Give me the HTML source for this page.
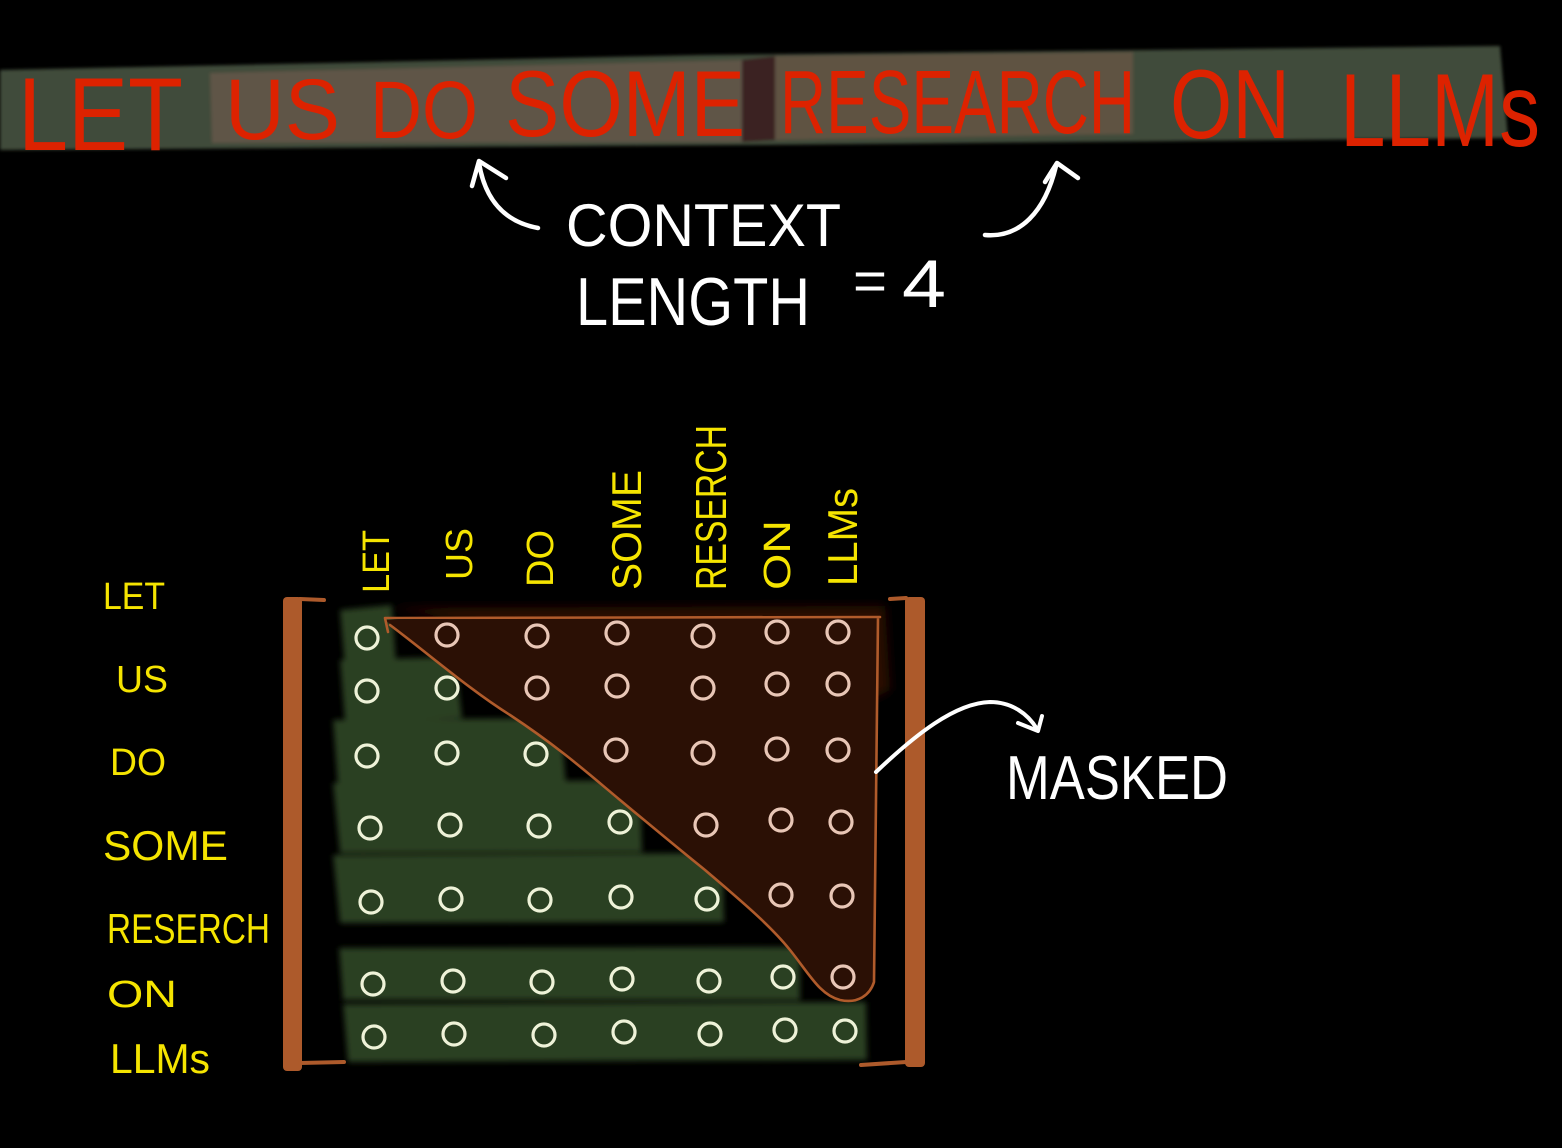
<!DOCTYPE html>
<html><head><meta charset="utf-8">
<style>
html,body{margin:0;padding:0;background:#000;}
svg{display:block;}
</style></head>
<body>
<svg width="1562" height="1148" viewBox="0 0 1562 1148" xmlns="http://www.w3.org/2000/svg">
<defs>
  <filter id="b3" x="-10%" y="-30%" width="120%" height="160%"><feGaussianBlur stdDeviation="3"/></filter>
  <filter id="b2" x="-10%" y="-30%" width="120%" height="160%"><feGaussianBlur stdDeviation="1.5"/></filter>
  <filter id="b6" x="-20%" y="-20%" width="140%" height="140%"><feGaussianBlur stdDeviation="5"/></filter>
</defs>
<rect width="1562" height="1148" fill="#000"/>

<!-- Title band -->
<g filter="url(#b2)">
  <polygon points="0,70 700,55 1500,46 1508,138 760,145 0,150" fill="#414b3a"/>
  <polygon points="210,73 742,60 742,142 212,143" fill="#5f5546"/>
  <polygon points="742,60 775,56 775,140 742,142" fill="#3b2420"/>
  <polygon points="775,56 1133,52 1133,134 775,140" fill="#5e5243"/>
</g>

<!-- Title text -->
<g font-family="'Liberation Sans Narrow','Liberation Sans',sans-serif" fill="#dd2200">
  <text x="18" y="150" font-size="104" textLength="165" lengthAdjust="spacingAndGlyphs">LET</text>
  <text x="225" y="139" font-size="86" textLength="115" lengthAdjust="spacingAndGlyphs">US</text>
  <text x="370" y="138" font-size="82" textLength="108" lengthAdjust="spacingAndGlyphs">DO</text>
  <text x="505" y="136" font-size="94" textLength="240" lengthAdjust="spacingAndGlyphs">SOME</text>
  <text x="780" y="133" font-size="90" textLength="355" lengthAdjust="spacingAndGlyphs">RESEARCH</text>
  <text x="1170" y="138" font-size="98" textLength="120" lengthAdjust="spacingAndGlyphs">ON</text>
  <text x="1340" y="146" font-size="104" textLength="200" lengthAdjust="spacingAndGlyphs">LLMs</text>
</g>

<!-- Context arrows -->
<g fill="none" stroke="#fff" stroke-width="4.5" stroke-linecap="round" stroke-linejoin="round">
  <path d="M538,228 C505,222 485,200 479,163"/>
  <path d="M472,186 L479,161 L506,178"/>
  <path d="M985,235 C1020,238 1045,212 1056,166"/>
  <path d="M1045,182 L1057,163 L1078,178"/>
</g>
<g font-family="'Liberation Sans',sans-serif" fill="#fff">
  <text x="566" y="246" font-size="60" textLength="275" lengthAdjust="spacingAndGlyphs">CONTEXT</text>
  <text x="576" y="325" font-size="68" textLength="234" lengthAdjust="spacingAndGlyphs">LENGTH</text>
  <text x="853" y="300" font-size="56" textLength="34" lengthAdjust="spacingAndGlyphs">=</text>
  <text x="902" y="307" font-size="68" textLength="44" lengthAdjust="spacingAndGlyphs">4</text>
</g>

<!-- Row labels -->
<g font-family="'Liberation Sans',sans-serif" fill="#f5e400">
  <text x="103" y="609" font-size="38" textLength="62" lengthAdjust="spacingAndGlyphs">LET</text>
  <text x="116" y="692" font-size="38" textLength="52" lengthAdjust="spacingAndGlyphs">US</text>
  <text x="110" y="775" font-size="38" textLength="56" lengthAdjust="spacingAndGlyphs">DO</text>
  <text x="103" y="860" font-size="42" textLength="125" lengthAdjust="spacingAndGlyphs">SOME</text>
  <text x="107" y="943" font-size="42" textLength="163" lengthAdjust="spacingAndGlyphs">RESERCH</text>
  <text x="107" y="1007" font-size="38" textLength="70" lengthAdjust="spacingAndGlyphs">ON</text>
  <text x="110" y="1073" font-size="42" textLength="100" lengthAdjust="spacingAndGlyphs">LLMs</text>
</g>

<!-- Column labels (rotated) -->
<g font-family="'Liberation Sans',sans-serif" fill="#f5e400" font-size="38">
  <text transform="translate(389,593) rotate(-90)" textLength="63" lengthAdjust="spacingAndGlyphs">LET</text>
  <text transform="translate(472,580) rotate(-90)" textLength="52" lengthAdjust="spacingAndGlyphs">US</text>
  <text transform="translate(553,587) rotate(-90)" textLength="57" lengthAdjust="spacingAndGlyphs">DO</text>
  <text transform="translate(641,590) rotate(-90)" font-size="42" textLength="120" lengthAdjust="spacingAndGlyphs">SOME</text>
  <text transform="translate(726,590) rotate(-90)" font-size="44" textLength="165" lengthAdjust="spacingAndGlyphs">RESERCH</text>
  <text transform="translate(790,590) rotate(-90)" textLength="70" lengthAdjust="spacingAndGlyphs">ON</text>
  <text transform="translate(857,586) rotate(-90)" font-size="42" textLength="98" lengthAdjust="spacingAndGlyphs">LLMs</text>
</g>

<!-- Green row bands -->
<g fill="#2c3f21" filter="url(#b3)">
  <polygon points="340,610 392,605 396,664 345,668"/>
  <polygon points="340,660 455,657 462,718 345,722"/>
  <polygon points="333,720 560,718 566,785 338,786"/>
  <polygon points="333,783 640,780 642,852 340,853"/>
  <polygon points="333,855 722,853 724,922 340,923"/>
  <polygon points="339,948 800,947 800,1000 343,1000"/>
  <polygon points="343,1004 866,1002 867,1060 348,1062"/>
</g>

<!-- Masked triangle -->
<path d="M390,608 L885,606 L890,690 L870,700 Z" fill="#2b1005" filter="url(#b6)"/>
<path d="M385,620 C430,655 470,690 510,715 C560,748 590,775 620,800 C650,825 680,850 705,870 C740,900 770,925 790,950 C810,975 820,995 840,1000 C858,1004 870,995 874,982 L878,618 Z" fill="#2b1005"/>
<path d="M388,632 L385,618 L880,617 M878,618 L874,982 C870,995 858,1004 840,1000 C820,995 810,975 790,950 C770,925 740,900 705,870 C680,850 650,825 620,800 C590,775 560,748 510,715 C470,690 430,655 390,625" fill="none" stroke="#b05b2b" stroke-width="2.6" stroke-linecap="round" stroke-linejoin="round"/>

<!-- Brown bars -->
<g fill="#ad5a2b">
  <rect x="283" y="597" width="19" height="474" rx="4"/>
  <rect x="905" y="597" width="20" height="470" rx="4"/>
</g>
<g fill="none" stroke="#ad5a2b" stroke-width="4" stroke-linecap="round">
  <path d="M300,599 L324,600"/>
  <path d="M300,1063 L344,1062"/>
  <path d="M890,599 L906,598"/>
  <path d="M861,1065 L906,1062"/>
</g>

<!-- Circles -->
<g fill="none" stroke-width="3.2">
  <circle cx="367" cy="638" r="11" stroke="#eef2d8"/>
  <circle cx="447" cy="635" r="11" stroke="#e8c6b6"/>
  <circle cx="537" cy="636" r="11" stroke="#e8c6b6"/>
  <circle cx="617" cy="633" r="11" stroke="#e8c6b6"/>
  <circle cx="703" cy="636" r="11" stroke="#e8c6b6"/>
  <circle cx="777" cy="632" r="11" stroke="#e8c6b6"/>
  <circle cx="838" cy="632" r="11" stroke="#e8c6b6"/>

  <circle cx="367" cy="691" r="11" stroke="#eef2d8"/>
  <circle cx="447" cy="688" r="11" stroke="#eef2d8"/>
  <circle cx="537" cy="688" r="11" stroke="#e8c6b6"/>
  <circle cx="617" cy="686" r="11" stroke="#e8c6b6"/>
  <circle cx="703" cy="688" r="11" stroke="#e8c6b6"/>
  <circle cx="777" cy="684" r="11" stroke="#e8c6b6"/>
  <circle cx="838" cy="684" r="11" stroke="#e8c6b6"/>

  <circle cx="367" cy="756" r="11" stroke="#eef2d8"/>
  <circle cx="447" cy="753" r="11" stroke="#eef2d8"/>
  <circle cx="536" cy="754" r="11" stroke="#eef2d8"/>
  <circle cx="616" cy="750" r="11" stroke="#e8c6b6"/>
  <circle cx="703" cy="753" r="11" stroke="#e8c6b6"/>
  <circle cx="777" cy="749" r="11" stroke="#e8c6b6"/>
  <circle cx="838" cy="750" r="11" stroke="#e8c6b6"/>

  <circle cx="370" cy="828" r="11" stroke="#eef2d8"/>
  <circle cx="450" cy="825" r="11" stroke="#eef2d8"/>
  <circle cx="539" cy="826" r="11" stroke="#eef2d8"/>
  <circle cx="620" cy="822" r="11" stroke="#eef2d8"/>
  <circle cx="706" cy="825" r="11" stroke="#e8c6b6"/>
  <circle cx="781" cy="820" r="11" stroke="#e8c6b6"/>
  <circle cx="841" cy="822" r="11" stroke="#e8c6b6"/>

  <circle cx="371" cy="902" r="11" stroke="#eef2d8"/>
  <circle cx="451" cy="899" r="11" stroke="#eef2d8"/>
  <circle cx="540" cy="900" r="11" stroke="#eef2d8"/>
  <circle cx="621" cy="897" r="11" stroke="#eef2d8"/>
  <circle cx="707" cy="899" r="11" stroke="#eef2d8"/>
  <circle cx="781" cy="895" r="11" stroke="#e8c6b6"/>
  <circle cx="842" cy="896" r="11" stroke="#e8c6b6"/>

  <circle cx="373" cy="984" r="11" stroke="#eef2d8"/>
  <circle cx="453" cy="981" r="11" stroke="#eef2d8"/>
  <circle cx="542" cy="982" r="11" stroke="#eef2d8"/>
  <circle cx="622" cy="979" r="11" stroke="#eef2d8"/>
  <circle cx="709" cy="981" r="11" stroke="#eef2d8"/>
  <circle cx="783" cy="977" r="11" stroke="#eef2d8"/>
  <circle cx="843" cy="977" r="11" stroke="#e8c6b6"/>

  <circle cx="374" cy="1037" r="11" stroke="#eef2d8"/>
  <circle cx="454" cy="1034" r="11" stroke="#eef2d8"/>
  <circle cx="544" cy="1035" r="11" stroke="#eef2d8"/>
  <circle cx="624" cy="1032" r="11" stroke="#eef2d8"/>
  <circle cx="710" cy="1034" r="11" stroke="#eef2d8"/>
  <circle cx="785" cy="1030" r="11" stroke="#eef2d8"/>
  <circle cx="845" cy="1031" r="11" stroke="#eef2d8"/>
</g>

<!-- Masked arrow & label -->
<g fill="none" stroke="#fff" stroke-width="4" stroke-linecap="round" stroke-linejoin="round">
  <path d="M876,772 C915,735 955,703 990,702 C1012,702 1028,714 1037,729"/>
  <path d="M1018,723 L1038,731 L1042,716"/>
</g>
<text x="1006" y="799" font-family="'Liberation Sans',sans-serif" font-size="62" fill="#fff" textLength="222" lengthAdjust="spacingAndGlyphs">MASKED</text>
</svg>
</body></html>
